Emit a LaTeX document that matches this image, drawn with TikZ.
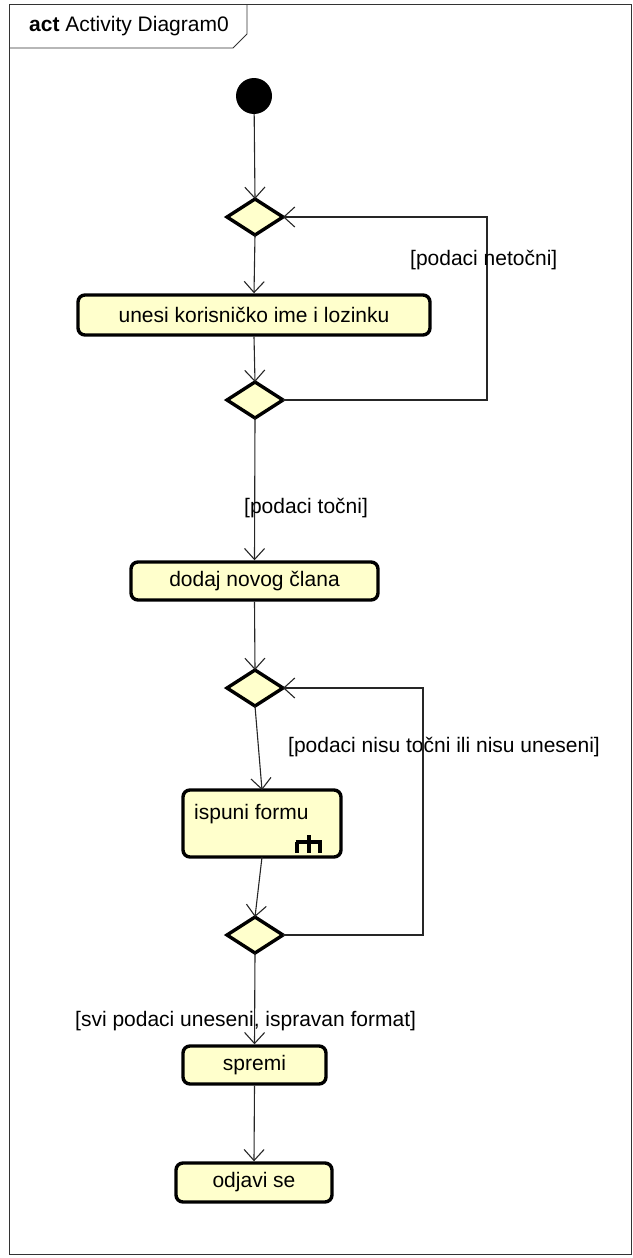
\documentclass[tikz,border=0pt]{standalone}
\usepackage{fontspec}
\setmainfont{Liberation Sans}
\usetikzlibrary{arrows.meta}
\definecolor{actfill}{RGB}{255,255,204}
\begin{document}
\begin{tikzpicture}[x=1pt,y=-1pt,
  txt/.style={font=\fontsize{21}{25}\selectfont},
  act/.style={draw=black,line width=3.4pt,fill=actfill,rounded corners=7pt,txt},
  dec/.style={draw=black,line width=3.4pt,fill=actfill},
  flow/.style={draw=black!85,line width=1.1pt,-{Straight Barb[length=11pt,width=20pt,line width=1.1pt]}},
  guard/.style={txt,inner sep=1pt}]
\useasboundingbox (0,0) rectangle (632,1258);
% frame
\draw[line width=0.8pt,black!80] (9,4) rectangle (631,1254);
\draw[line width=0.8pt,black!80] (9,48) -- (233,48) -- (247,34) -- (247,4);
\node[anchor=west,txt,inner sep=0pt] (title) at (29,26) {\textbf{act} Activity Diagram0};
% initial
\fill[black] (254,96) circle (18);
\node[circle,minimum size=36pt,inner sep=0pt] (start) at (254,96) {};
% decisions
\foreach \n/\y in {d1/217,d2/400,d3/688,d4/935}{
  \draw[dec] (227,\y) -- (255,\y-18) -- (283,\y) -- (255,\y+18) -- cycle;
  \coordinate (\n t) at (255,\y-18);
  \coordinate (\n b) at (255,\y+18);
  \coordinate (\n r) at (283,\y);
}
% actions
\node[act,minimum width=352pt,minimum height=40pt] (a1) at (254,315) {unesi korisničko ime i lozinku};
\node[act,minimum width=247pt,minimum height=38pt] (a2) at (254.5,581) {dodaj novog člana};
\node[act,minimum width=158pt,minimum height=67pt] (a3) at (262,823.5) {};
\node[anchor=west,txt,inner sep=0pt] (a3t) at (194,814) {ispuni formu};
\node[act,minimum width=143pt,minimum height=38pt] (a4) at (254.5,1065) {spremi};
\node[act,minimum width=156pt,minimum height=39pt] (a5) at (254,1182.5) {odjavi se};
% rake icon
\draw[line width=3.4pt] (295.5,842) -- (321.5,842);
\draw[line width=3.4pt] (297,842) -- (297,853) (309,835) -- (309,853) (320,842) -- (320,853);
% flows
\draw[flow] (start) -- (d1t);
\draw[flow] (d1b) -- (a1.north);
\draw[flow] (a1.south) -- (d2t);
\draw[flow] (d2r) -- (487,400) -- (487,217) -- (d1r);
\node[guard,anchor=west] (g1) at (409,260) {[podaci netočni]};
\draw[flow] (d2b) -- (a2.north);
\node[guard,anchor=west] (g2) at (243,508) {[podaci točni]};
\draw[flow] (a2.south) -- (d3t);
\draw[flow] (d3b) -- (262,790);
\node[guard,anchor=west] (g3) at (287,747) {[podaci nisu točni ili nisu uneseni]};
\draw[flow] (262,857) -- (d4t);
\draw[flow] (d4r) -- (423,935) -- (423,688) -- (d3r);
\draw[flow] (d4b) -- (a4.north);
\node[guard,anchor=west] (g4) at (74,1021) {[svi podaci uneseni, ispravan format]};
\draw[flow] (a4.south) -- (a5.north);
\end{tikzpicture}
\end{document}
